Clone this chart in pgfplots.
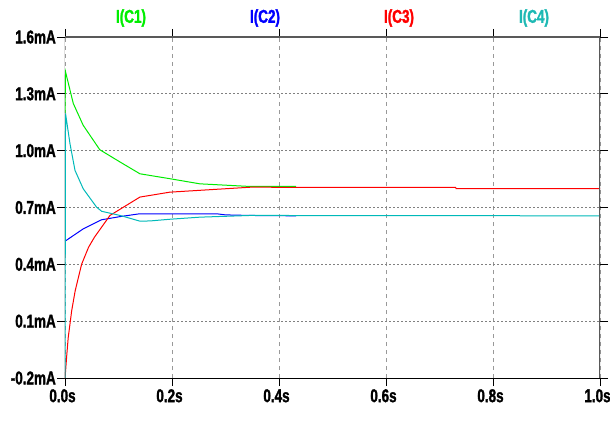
\documentclass[border=0pt]{standalone}
\usepackage{fontspec}
\setmainfont{Liberation Sans}
\newfontfamily\lsb{Liberation Sans}[FakeStretch=0.73, FakeBold=1.5]
\usepackage{pgfplots}
\pgfplotsset{compat=1.18}
\definecolor{cgreen}{RGB}{0,235,0}
\definecolor{cblue}{RGB}{0,0,255}
\definecolor{cred}{RGB}{255,0,0}
\definecolor{ccyan}{RGB}{0,185,185}
\definecolor{cgreenl}{RGB}{0,238,0}
\definecolor{ccyanl}{RGB}{30,185,180}
\newcommand{\lf}{\fontsize{18.5pt}{20pt}\lsb\bfseries}
\begin{document}
\begin{tikzpicture}[x=1pt,y=1pt]
\useasboundingbox (0,0) rectangle (610,421);
\begin{axis}[
  at={(65pt,43pt)}, anchor=south west,
  scale only axis, width=535pt, height=341pt,
  xmin=0, xmax=1, ymin=-0.2, ymax=1.6,
  xtick={0,0.2,0.4,0.6,0.8,1.0},
  xticklabels={0.0s,0.2s,0.4s,0.6s,0.8s,1.0s},
  ytick={-0.2,0.1,0.4,0.7,1.0,1.3,1.6},
  yticklabels={-0.2mA,0.1mA,0.4mA,0.7mA,1.0mA,1.3mA,1.6mA},
  /pgf/number format/assume math mode=true,
  tick align=outside,
  major tick length=8pt,
  xtick style={black, line width=0.8pt},
  ytick style={black, line width=0.8pt},
  xticklabel style={font=\lf, inner sep=1pt, yshift=-2pt, xshift=-2.5pt},
  yticklabel style={font=\lf, inner sep=1pt},
  xmajorgrids, ymajorgrids,
  x grid style={gray!80, line width=0.8pt, dash pattern=on 4pt off 4pt},
  y grid style={gray, line width=0.8pt, dash pattern=on 2pt off 2pt},
  axis line style={draw=none},
  clip=true,
]
\addplot[cgreen, line width=1pt] coordinates {
(0,1.20) (0.001,1.416) (0.0155,1.249) (0.034,1.134) (0.065,1.005) (0.103,0.94) (0.14,0.878)
(0.196,0.852) (0.252,0.825) (0.346,0.811) (0.432,0.812)};
\addplot[cblue, line width=1pt] coordinates {
(0,0.522) (0.034,0.587) (0.068,0.635) (0.103,0.652) (0.14,0.667) (0.283,0.667) (0.30,0.661) (0.346,0.658) (0.432,0.656)};
\addplot[cred, line width=1pt] coordinates {
(0,-0.205) (0.003,-0.09) (0.006,0.013) (0.0125,0.155) (0.019,0.26) (0.031,0.40) (0.044,0.49) (0.055,0.543)
(0.084,0.658) (0.14,0.755) (0.196,0.781) (0.346,0.807) (0.73,0.806) (0.731,0.800) (1.0,0.800)};
\addplot[ccyan, line width=1pt] coordinates {
(0,-0.2) (0.001,1.196) (0.0093,1.037) (0.0187,0.896) (0.034,0.799) (0.059,0.702) (0.0685,0.68)
(0.103,0.658) (0.14,0.628) (0.159,0.629) (0.196,0.638) (0.252,0.649) (0.346,0.658) (1.0,0.656)};
\draw[black, line width=1pt] (rel axis cs:0,1) -- (rel axis cs:0,0) -- (rel axis cs:1,0);
\draw[black!65, line width=1.6pt] (rel axis cs:0,1) -- (rel axis cs:1,1) -- (rel axis cs:1,0);
\end{axis}
\node[cgreenl, font=\lf] at (131,403) {I(C1)};
\node[cblue, font=\lf] at (265,403) {I(C2)};
\node[cred, font=\lf] at (399,403) {I(C3)};
\node[ccyanl, font=\lf] at (534,403) {I(C4)};
\end{tikzpicture}
\end{document}
